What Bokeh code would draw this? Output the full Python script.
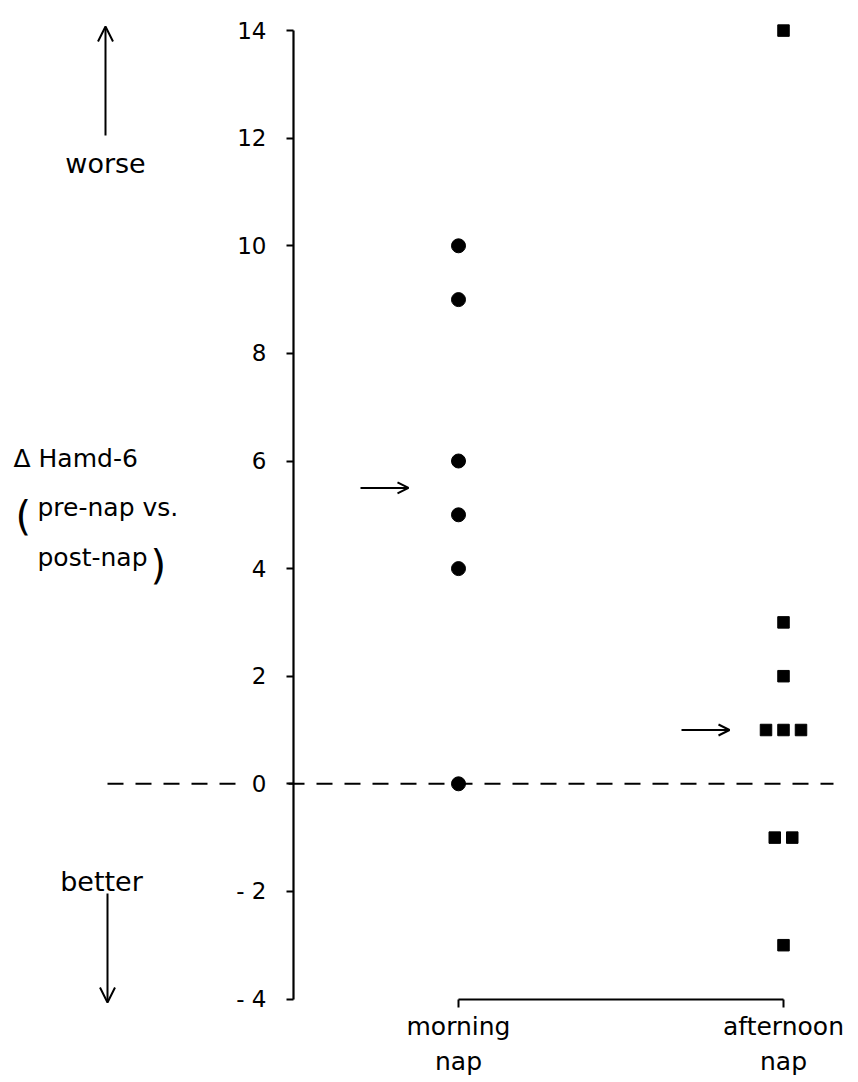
import numpy as np
from collections import Counter
from bokeh.plotting import figure
from bokeh.models import Range1d, LinearAxis, FixedTicker, Arrow, OpenHead
from bokeh.embed import file_html
from bokeh.resources import INLINE
from bokeh.core.properties import value

# ---------------- data ----------------
categories = ["morning\nnap", "afternoon\nnap"]
morning = [10, 9, 6, 5, 4, 0]
afternoon = [14, 3, 2, 1, 1, 1, -1, -1, -3]
y_ticks = [-4, -2, 0, 2, 4, 6, 8, 10, 12, 14]
y_tick_labels = ["- 4", "- 2", "0", "2", "4", "6", "8", "10", "12", "14"]
y_label_lines = ["\u0394 Hamd-6", "pre-nap vs.", "post-nap"]
direction_labels = ["worse", "better"]

# ---------------- layout ----------------
W, H = 856, 1080
OFF = 0                      # page offset of the canvas
CAT0_PX, PX_PER_X = 458, 325  # px of first category, px between categories
ZERO_PX, PX_PER_Y = 783.3, 53.8
FONT = value("DejaVu Sans")


def dx(px):
    return (px - CAT0_PX) / PX_PER_X


def dy(py):
    return (ZERO_PX - py) / PX_PER_Y


def spread(vals, center, step):
    counts = Counter(vals)
    seen = Counter()
    xs = []
    for v in vals:
        n = counts[v]
        i = seen[v]
        seen[v] += 1
        xs.append(center + (i - (n - 1) / 2) * step)
    return xs


p = figure(width=W, height=H,
           x_range=Range1d(dx(OFF), dx(OFF + W)),
           y_range=Range1d(dy(OFF + H), dy(OFF)),
           x_axis_type=None, y_axis_type=None,
           output_backend="svg", toolbar_location=None, min_border=0)
p.outline_line_color = None
p.xgrid.visible = False
p.ygrid.visible = False
p.background_fill_color = "white"
p.border_fill_color = "white"

# y axis
yaxis = LinearAxis(ticker=FixedTicker(ticks=y_ticks), fixed_location=dx(293),
                   bounds=(y_ticks[0], y_ticks[-1]),
                   major_label_overrides={t: l for t, l in zip(y_ticks, y_tick_labels)})
yaxis.axis_line_width = 2.2
yaxis.major_tick_line_width = 2
yaxis.major_tick_in = 0
yaxis.major_tick_out = 7
yaxis.minor_tick_line_color = None
yaxis.major_label_standoff = 20
yaxis.major_label_text_font = "DejaVu Sans"
yaxis.major_label_text_font_size = "23px"
yaxis.major_label_text_color = "black"
p.add_layout(yaxis, "left")

# x axis (bracket)
xaxis = LinearAxis(ticker=FixedTicker(ticks=[0, 1]), fixed_location=y_ticks[0],
                   bounds=(0, 1),
                   major_label_overrides={0: categories[0], 1: categories[1]})
xaxis.axis_line_width = 2
xaxis.major_tick_line_width = 2
xaxis.major_tick_in = 0
xaxis.major_tick_out = 8
xaxis.minor_tick_line_color = None
xaxis.major_label_standoff = 5
xaxis.major_label_text_font = "DejaVu Sans"
xaxis.major_label_text_font_size = "25px"
xaxis.major_label_text_color = "black"
p.add_layout(xaxis, "below")

# zero dashed line
p.line([dx(107), dx(240)], [0, 0], line_color="black", line_width=2, line_dash="16 12")
p.line([dx(288), dx(833)], [0, 0], line_color="black", line_width=2, line_dash="16 12")

# points
p.scatter([0] * len(morning), morning, marker="circle", size=14,
          fill_color="black", line_color="black")
p.scatter(spread(afternoon, 1, 17.5 / PX_PER_X), afternoon, marker="square", size=11.5,
          fill_color="black", line_color="black")

# median arrows
for cx, vals in ((0, morning), (1, afternoon)):
    m = float(np.median(vals))
    x_end = cx + dx(408) if cx == 0 else cx + dx(729) - 1
    x_start = x_end - 48 / PX_PER_X
    p.add_layout(Arrow(end=OpenHead(size=11, line_width=2, line_color="black"),
                       x_start=x_start, y_start=m, x_end=x_end, y_end=m,
                       line_width=2, line_color="black"))

# direction arrows
p.add_layout(Arrow(end=OpenHead(size=15, line_width=2, line_color="black"),
                   x_start=dx(105), y_start=dy(135), x_end=dx(105), y_end=dy(26),
                   line_width=2, line_color="black"))
p.add_layout(Arrow(end=OpenHead(size=15, line_width=2, line_color="black"),
                   x_start=dx(107), y_start=dy(893), x_end=dx(107), y_end=dy(1002),
                   line_width=2, line_color="black"))
p.text([dx(105), dx(101)], [dy(163), dy(881)], text=direction_labels,
       text_align="center", text_baseline="alphabetic", text_font=FONT,
       text_font_size="27px", text_color="black")

# y label
p.text([dx(13)], [dy(458)], text=[y_label_lines[0]], text_align="left",
       text_baseline="alphabetic", text_font=FONT, text_font_size="25px", text_color="black")
p.text([dx(37), dx(37)], [dy(507), dy(557)], text=y_label_lines[1:], text_align="left",
       text_baseline="alphabetic", text_font=FONT, text_font_size="25px", text_color="black")
p.text([dx(15)], [dy(515)], text=["("], text_align="left",
       text_baseline="alphabetic", text_font=FONT, text_font_size="40px", text_color="black")
p.text([dx(150)], [dy(564)], text=[")"], text_align="left",
       text_baseline="alphabetic", text_font=FONT, text_font_size="40px", text_color="black")

open("out.html", "w").write(file_html(p, INLINE))
